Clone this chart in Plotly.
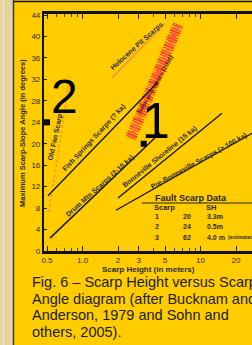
import math
import plotly.graph_objects as go

# ---------------- data ----------------
x_ticks = [0.5, 1, 2, 3, 5, 10, 20]
x_tick_text = ["0.5", "1.0", "2", "3", "5", "10", "20"]
y_ticks = [0, 4, 8, 12, 16, 20, 24, 28, 32, 36, 40, 44]

# scarp-age lines: (scarp height m, max slope angle deg)
fish_h = [0.51, 4.36]
fish_a = [10.3, 31.5]
drum_h = [0.53, 4.54]
drum_a = [2.4, 22.0]
bonn_h = [2.0, 15.2]
bonn_a = [9.9, 25.7]
prebonn_h = [1.92, 28.0]
prebonn_a = [7.6, 22.1]
pit_h = [1.78, 5.0]
pit_a = [32.3, 42.4]
old_h = [0.52, 0.78]
old_a = [7.3, 32.6]
sohn_h = [2.57, 6.46]
sohn_a = [21.1, 42.2]

# measured scarps
scarp_id = ["1", "2", "3"]
scarp_h = [3.3, 0.5]
scarp_a = [20, 24]
table_angle = ["20", "24", "62"]
table_sh = ["3.3m", "0.5m", "4.0 m"]

caption = ["Fig. 6 \u2013 Scarp Height versus Scarp",
           "Angle diagram (after Bucknam and",
           "Anderson, 1979 and Sohn and",
           "others, 2005)."]

# ---------------- layout helpers ----------------
W, H = 252, 345
L, R, T, B = 44, 252, 14, 251


def px(xp):
    return (xp - L) / (R - L)


def py(yp):
    return (B - yp) / (B - T)


YEL = "#FFCC00"
INK = "#2b2b2b"
FONT = "Liberation Sans, Arial, sans-serif"

fig = go.Figure()


def add_line(h, a, color, width, dash="solid", opacity=1.0):
    fig.add_trace(go.Scatter(x=h, y=a, mode="lines", opacity=opacity,
                             line=dict(color=color, width=width, dash=dash),
                             hoverinfo="skip", showlegend=False))


# red data band (Sohn and others)
add_line(sohn_h, sohn_a, "#FF2B22", 11, dash="1px,1px,2px,1px,1px,2px", opacity=0.95)
add_line(sohn_h, sohn_a, "#FF5A4A", 5, dash="2px,1px,1px,1px")
# orange lines
add_line(pit_h, pit_a, "#F79A3A", 2)
add_line(old_h, old_a, "#F79A3A", 1.6, dash="3px,2px")
# black lines
for h, a in [(fish_h, fish_a), (drum_h, drum_a), (bonn_h, bonn_a), (prebonn_h, prebonn_a)]:
    add_line(h, a, "#151515", 1.4)

# measured scarps
fig.add_trace(go.Scatter(x=scarp_h, y=scarp_a, mode="markers",
                         marker=dict(symbol="square", size=6, color="black"),
                         hoverinfo="skip", showlegend=False))

ann = []


def lab(text, x, y, angle, size=7, color=INK, bold=True):
    ann.append(dict(text=("<b>%s</b>" % text) if bold else text, x=x, y=y, xref="x", yref="y",
                    textangle=angle, showarrow=False,
                    font=dict(family=FONT, size=size, color=color)))


lab("Holocene Pit Scarps", math.log10(2.9), 38.2, -42)
lab("Fish Springs Scarps (? ka)", math.log10(1.25), 21.1, -47)
lab("Drum Mtn Scarps (2-10 ka)", math.log10(1.41), 12.1, -42)
lab("Bonneville Shoreline (15 ka)", math.log10(4.5), 17.6, -39)
lab("Pre-Bonneville Scarps (> 100 ka)", math.log10(9.8), 16.7, -29)
lab("Old Fan Scarp", math.log10(0.585), 21.1, -78)
lab("Sohn and others (2005)", math.log10(4.1), 31.0, -60, size=6, color="#5a1010")

# big scarp numbers
ann.append(dict(text="2", x=math.log10(0.70), y=28.9, xref="x", yref="y", showarrow=False,
                font=dict(family=FONT, size=48, color="black")))
ann.append(dict(text="1", x=math.log10(4.2), y=24.2, xref="x", yref="y", showarrow=False,
                font=dict(family=FONT, size=50, color="black")))


def ptext(text, xp, yp, size, anchor="center", bold=False, angle=0, color=INK):
    ann.append(dict(text=("<b>%s</b>" % text) if bold else text, x=px(xp), y=py(yp),
                    xref="paper", yref="paper", xanchor=anchor, yanchor="middle",
                    textangle=angle, showarrow=False,
                    font=dict(family=FONT, size=size, color=color)))


# fault scarp data table
ptext("Fault Scarp Data", 191, 197.5, 9, bold=True, color="#222")
ptext("Scarp", 164, 207, 7.5, bold=True)
ptext("SH", 211, 207, 7.5, bold=True)
for i, sid in enumerate(scarp_id):
    yy = [216, 226, 237][i]
    ptext(sid, 157, yy, 7, bold=True)
    ptext(table_angle[i], 187, yy, 7, bold=True)
    ptext(table_sh[i], 205, yy, 7, anchor="left", bold=True)
ptext("(estimated)", 226, 237, 5, anchor="left", bold=True)

# axis titles
ptext("Scarp Height (in meters)", 148, 269, 8, bold=True)
ptext("Maximum Scarp-Slope Angle (in degrees)", 22, 133, 7.5, bold=True, angle=-90)

# caption
for i, line in enumerate(caption):
    ptext(line, 30, [282, 298.5, 315, 331.5][i], 14.5, anchor="left", color="#1c1c1c")

shapes = [
    dict(type="rect", xref="paper", yref="paper", x0=px(0), x1=px(13), y0=py(H), y1=py(0),
         fillcolor="#E7D3A2", line=dict(width=0), layer="below"),
    dict(type="line", xref="paper", yref="paper", x0=px(3.5), x1=px(3.5), y0=py(H), y1=py(0),
         line=dict(color="#F3E7C8", width=1)),
    dict(type="line", xref="paper", yref="paper", x0=px(13.5), x1=px(13.5), y0=py(H), y1=py(0),
         line=dict(color="#3a3a3a", width=1.5)),
    dict(type="line", xref="paper", yref="paper", x0=px(14), x1=px(W), y0=py(1.5), y1=py(1.5),
         line=dict(color="#111", width=1.5)),
    dict(type="line", xref="paper", yref="paper", x0=px(142), x1=px(W), y0=py(203), y1=py(203),
         line=dict(color="#222", width=1)),
]

fig.update_layout(
    width=W, height=H,
    margin=dict(l=L, r=W - R, t=T, b=H - B, pad=0),
    paper_bgcolor=YEL, plot_bgcolor=YEL,
    font=dict(family=FONT, size=8, color=INK),
    annotations=ann, shapes=shapes,
    showlegend=False,
)
fig.update_xaxes(type="log", range=[-0.3265, 1.4363], showgrid=False, zeroline=False,
                 tickvals=x_ticks, ticktext=x_tick_text, ticks="inside", ticklen=5,
                 tickwidth=1.2, tickcolor="#222",
                 minor=dict(tickvals=[0.6, 0.7, 0.8, 0.9, 4, 6, 7, 8, 9], ticks="inside",
                            ticklen=3, tickcolor="#444"),
                 showline=True, linecolor="#111", linewidth=2.5, mirror="ticks",
                 tickfont=dict(family=FONT, size=8, color=INK), tickprefix="<b>", ticksuffix="</b>")
fig.update_yaxes(range=[0, 44.2], showgrid=False, zeroline=False,
                 tickvals=y_ticks, ticks="inside", ticklen=3, tickcolor="#222",
                 showline=True, linecolor="#111", linewidth=2.2,
                 tickfont=dict(family=FONT, size=8, color=INK), tickprefix="<b>", ticksuffix="</b>")

fig.write_html("out.html", config=dict(displayModeBar=False),
               post_script="document.body.style.margin='0';document.body.style.padding='0';"
                           "document.body.style.overflow='hidden';"
                           "document.body.style.background='%s';" % YEL)
